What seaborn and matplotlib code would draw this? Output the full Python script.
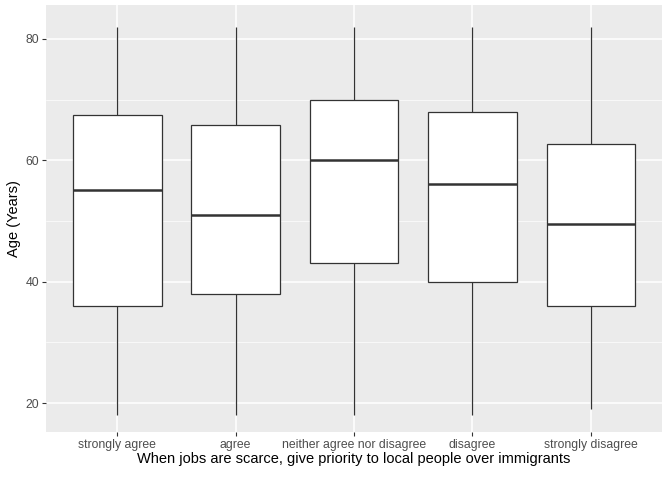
import matplotlib
matplotlib.use("Agg")
import matplotlib.pyplot as plt
import seaborn as sns
import pandas as pd

categories = ["strongly agree", "agree", "neither agree nor disagree",
              "disagree", "strongly disagree"]
# five-number summaries: min, q1, median, q3, max
mins = [18, 18, 18, 18, 19]
q1s = [36, 38, 43.1, 40, 36]
medians = [55.1, 51, 60.1, 56.1, 49.5]
q3s = [67.5, 65.8, 70, 68, 62.7]
maxs = [82, 82, 82, 82, 82]

rows = []
for c, a, b, m, d, e in zip(categories, mins, q1s, medians, q3s, maxs):
    for v in (a, b, m, d, e):
        rows.append({"group": c, "age": v})
df = pd.DataFrame(rows)

sns.set_theme(style="darkgrid")
plt.rcParams['font.family'] = ['Liberation Sans', 'DejaVu Sans']

fig = plt.figure(figsize=(6.72, 4.8), dpi=100)
ax = fig.add_axes([46/672, 48/480, 616/672, 427/480])
ax.set_facecolor("#EBEBEB")

sns.boxplot(data=df, x="group", y="age", order=categories, ax=ax,
            color="white", width=0.75, whis=1.5, fill=True,
            linecolor="#333333", linewidth=0.9,
            medianprops=dict(color="#333333", linewidth=1.8),
            boxprops=dict(facecolor="white", edgecolor="#333333"),
            showcaps=False, flierprops=dict(marker="o"))

ax.set_xlim(-0.6, 4.6)
ax.set_ylim(15.25, 85.6)
ax.set_yticks([20, 40, 60, 80])
ax.set_yticks([30, 50, 70], minor=True)
ax.grid(True, which="major", color="white", linewidth=1.1)
ax.grid(True, which="minor", color="white", linewidth=0.5)
ax.grid(False, axis="x", which="minor")
ax.set_axisbelow(True)
for s in ax.spines.values():
    s.set_visible(False)

ax.tick_params(axis="both", which="major", length=3, color="#333333",
               labelsize=8.8, labelcolor="#4D4D4D", pad=2, width=0.8,
               bottom=True, left=True)
ax.tick_params(axis="both", which="minor", length=0)
ax.set_xlabel("When jobs are scarce, give priority to local people over immigrants",
              fontsize=10.5, color="black", labelpad=1)
ax.set_ylabel("Age (Years)", fontsize=10.5, color="black", labelpad=3)

fig.savefig("out.png", dpi=100)
